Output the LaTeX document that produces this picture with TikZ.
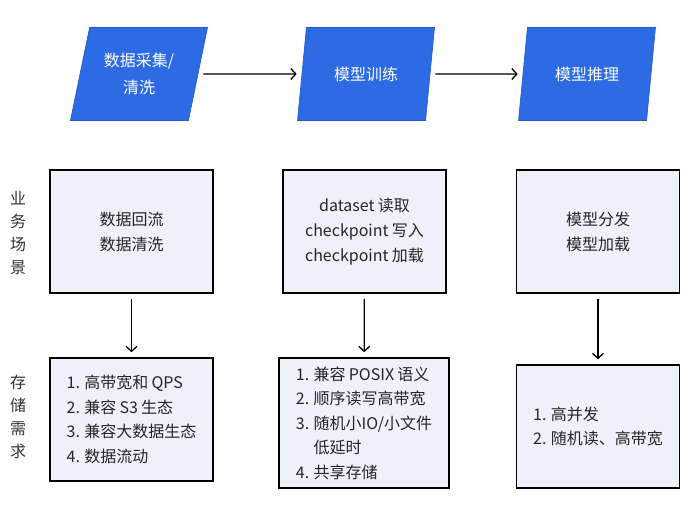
\documentclass[tikz,border=0pt]{standalone}
\usepackage{fontspec}
\setmainfont{Noto Sans CJK SC}[WordSpace=0.9]
\usepackage{tikz}
\usetikzlibrary{shapes.geometric,arrows.meta,positioning,calc}
\usepackage{xcolor}

\definecolor{etapebleu}{HTML}{2C6BE4}
\definecolor{etapebord}{HTML}{1F58C8}
\definecolor{boitefond}{HTML}{EEF0FA}

\begin{document}
\begin{tikzpicture}[x=1pt, y=1pt,
  etape/.style={trapezium, trapezium left angle=72, trapezium right angle=108, trapezium stretches=true, minimum width=138pt, minimum height=93pt, inner sep=0pt, fill=etapebleu, draw=etapebord, line width=0.6pt, text=white, align=center, font=\fontsize{16}{27}\selectfont},
  boite/.style={rectangle, draw=black, line width=1.6pt, fill=boitefond, minimum width=163pt, minimum height=123pt, align=center, text=black!85, font=\fontsize{16}{25}\selectfont},
  liste/.style={boite, align=left, font=\fontsize{16}{24.5}\selectfont},
  cote/.style={align=center, text width=16pt, inner sep=0pt, text=black!80, font=\fontsize{16}{23}\selectfont},
  fleche/.style={-{Straight Barb[length=5pt, width=11pt]}, line width=1.3pt, shorten <=5pt, shorten >=5pt}
]
\useasboundingbox (0,0) rectangle (700,510);

% etapes
\node[etape] (collecte) at (139,436) {数据采集/\\清洗};
\node[etape] (entrainement) at (366,436) {模型训练};
\node[etape] (inference) at (587,436) {模型推理};
\draw[fleche] (collecte) -- (entrainement);
\draw[fleche] (entrainement) -- (inference);

% scenarios
\node[cote] (scenario) at (18,276.5) {业\\务\\场\\景};
\node[boite] (scena) at (131.5,278.5) {数据回流\\数据清洗};
\node[boite] (scenb) at (364.5,278.5) {dataset 读取\\checkpoint 写入\\checkpoint 加载};
\node[boite] (scenc) at (598,278.5) {模型分发\\模型加载};

% besoins
\node[cote] (besoin) at (18,93.5) {存\\储\\需\\求};
\node[liste] (besa) at (131.5,90.5) {1. 高带宽和 QPS\\2. 兼容 S3 生态\\3. 兼容大数据生态\\4. 数据流动};
\node[liste, minimum width=170pt, minimum height=130pt] (besb) at (364,87) {1. 兼容 POSIX 语义\\2. 顺序读写高带宽\\3. 随机小IO/小文件\\\phantom{3. }低延时\\4. 共享存储};
\node[liste] (besc) at (598,83.5) {1. 高并发\\2. 随机读、高带宽};

\draw[fleche] (scena) -- (besa);
\draw[fleche] (scenb) -- (besb);
\draw[fleche] (scenc) -- (besc);

\end{tikzpicture}
\end{document}
